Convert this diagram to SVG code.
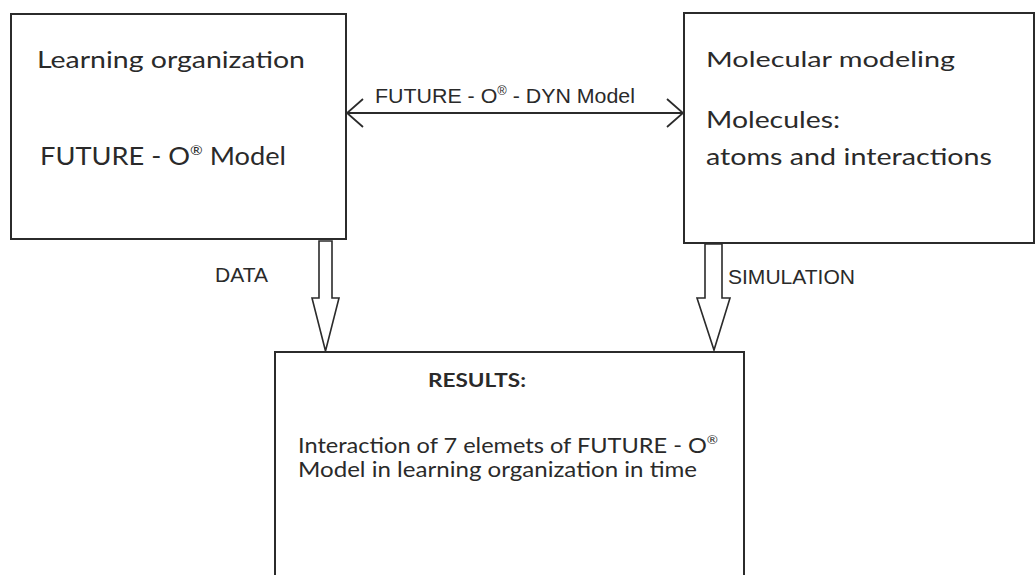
<svg xmlns="http://www.w3.org/2000/svg" width="1036" height="575" viewBox="0 0 1036 575">
<style>
.box{fill:#fff;stroke:#2b2b2b;stroke-width:2}
.blk{fill:#fff;stroke:#2b2b2b;stroke-width:1.6;stroke-linejoin:miter}
.c{font-family:Lato,"Open Sans",sans-serif;fill:#2a2a2a}
.a{font-family:"Liberation Sans",Arial,sans-serif;fill:#2a2a2a}
.ln{fill:none;stroke:#2b2b2b;stroke-width:1.8}
</style>
<defs>
<marker id="open" viewBox="0 0 20 30" refX="19" refY="15" markerWidth="20" markerHeight="30" markerUnits="userSpaceOnUse" orient="auto-start-reverse">
<path d="M3,1 L19,15 L3,29" fill="none" stroke="#2b2b2b" stroke-width="1.8"/>
</marker>
</defs>
<rect width="1036" height="575" fill="#fff"/>
<g id="learning-organization">
<rect class="box" x="11" y="14" width="335" height="225"/>
<text class="c" x="37" y="68" font-size="23" textLength="268" lengthAdjust="spacingAndGlyphs">Learning organization</text>
<text class="c" x="40" y="165" font-size="25" textLength="246" lengthAdjust="spacingAndGlyphs">FUTURE - O<tspan font-size="14" dy="-10">®</tspan><tspan dy="10"> Model</tspan></text>
</g>
<g id="molecular-modeling">
<rect class="box" x="684" y="13" width="350" height="230"/>
<text class="c" x="706" y="67" font-size="22" textLength="249" lengthAdjust="spacingAndGlyphs">Molecular modeling</text>
<text class="c" x="706" y="128" font-size="23" textLength="134" lengthAdjust="spacingAndGlyphs">Molecules:</text>
<text class="c" x="706" y="165" font-size="23" textLength="286" lengthAdjust="spacingAndGlyphs">atoms and interactions</text>
</g>
<g id="results">
<path class="box" d="M275,580 L275,352 L744,352 L744,580"/>
<text class="c" x="428" y="387" font-size="18.5" font-weight="bold" textLength="98" lengthAdjust="spacingAndGlyphs">RESULTS:</text>
<text class="c" x="298" y="453" font-size="21" textLength="420" lengthAdjust="spacingAndGlyphs">Interaction of 7 elemets of FUTURE - O<tspan font-size="12" dy="-9">®</tspan></text>
<text class="c" x="298" y="477" font-size="21" textLength="399" lengthAdjust="spacingAndGlyphs">Model in learning organization in time</text>
</g>
<g id="connectors">
<line class="ln" x1="347" y1="113" x2="683" y2="113" marker-start="url(#open)" marker-end="url(#open)"/>
<text class="a" x="375" y="103" font-size="20" textLength="260" lengthAdjust="spacingAndGlyphs">FUTURE - O<tspan font-size="12" dy="-8">®</tspan><tspan dy="8"> - DYN Model</tspan></text>
<polygon class="blk" points="319,241 332,241 332,298 339,298 325.5,351 312,298 319,298"/>
<text class="a" x="215" y="282" font-size="20" textLength="53" lengthAdjust="spacingAndGlyphs">DATA</text>
<polygon class="blk" points="705,244 722,244 722,298 730,298 714,350 697,298 705,298"/>
<text class="a" x="728" y="284" font-size="20.5" textLength="127" lengthAdjust="spacingAndGlyphs">SIMULATION</text>
</g>
</svg>
